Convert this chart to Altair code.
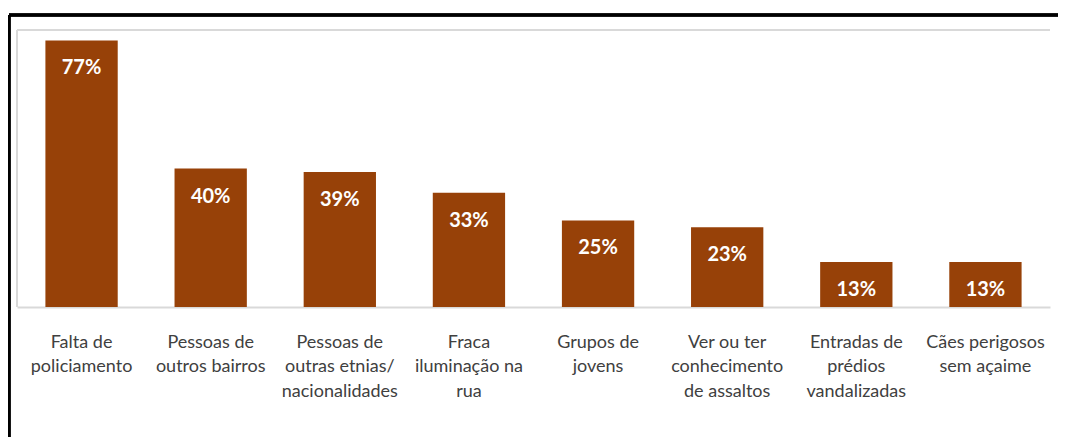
import altair as alt
import pandas as pd

categories = [
    "Falta de\npoliciamento",
    "Pessoas de\noutros bairros",
    "Pessoas de\noutras etnias/\nnacionalidades",
    "Fraca\niluminação na\nrua",
    "Grupos de\njovens",
    "Ver ou ter\nconhecimento\nde assaltos",
    "Entradas de\nprédios\nvandalizadas",
    "Cães perigosos\nsem açaime",
]
values = [77, 40, 39, 33, 25, 23, 13, 13]

df = pd.DataFrame({"cat": categories, "val": values})
df["lbl"] = df["val"].astype(str) + "%"

W, H = 1033, 277
BAR = "#974108"

x = alt.X(
    "cat:N",
    sort=categories,
    scale=alt.Scale(paddingInner=0.44, paddingOuter=0.22),
    axis=alt.Axis(
        title=None,
        labelAngle=0,
        ticks=False,
        domain=True,
        domainColor="#d9d9d9",
        domainWidth=2,
        labelExpr="split(datum.label, '\\n')",
        labelFont="Lato",
        labelFontSize=18,
        labelColor="#404040",
        labelLineHeight=24.5,
        labelPadding=26,
        labelBaseline="top",
    ),
)
y = alt.Y("val:Q", scale=alt.Scale(domain=[0, 80], nice=False), axis=None)

bars = alt.Chart(df).mark_bar(color=BAR).encode(x=x, y=y)
text = alt.Chart(df).mark_text(
    color="white", font="Lato", fontWeight="bold", fontSize=20, baseline="middle", dy=28
).encode(x=x, y=y, text="lbl:N")

inner_top = alt.Chart(df).mark_rule(color="#d9d9d9", strokeWidth=2).encode(
    x=alt.value(0), x2=alt.value(W), y=alt.value(0)
)
inner_left = alt.Chart(df).mark_rule(color="#d9d9d9", strokeWidth=2).encode(
    x=alt.value(0), y=alt.value(0), y2=alt.value(H)
)
frame_top = alt.Chart(df).mark_rule(color="black", strokeWidth=2.5).encode(
    x=alt.value(-8), x2=alt.value(W + 40), y=alt.value(-15)
)
frame_left = alt.Chart(df).mark_rule(color="black", strokeWidth=2.5).encode(
    x=alt.value(-8), y=alt.value(-15), y2=alt.value(H + 200)
)

chart = (
    alt.layer(bars, text, inner_top, inner_left, frame_top, frame_left)
    .properties(
        width=W,
        height=H,
        padding={"left": 9, "top": 22, "right": 8, "bottom": 130},
        autosize=alt.AutoSizeParams(type="none"),
    )
    .configure_view(stroke=None)
)

chart.save("out.html", embed_options={"renderer": "svg", "actions": False})
